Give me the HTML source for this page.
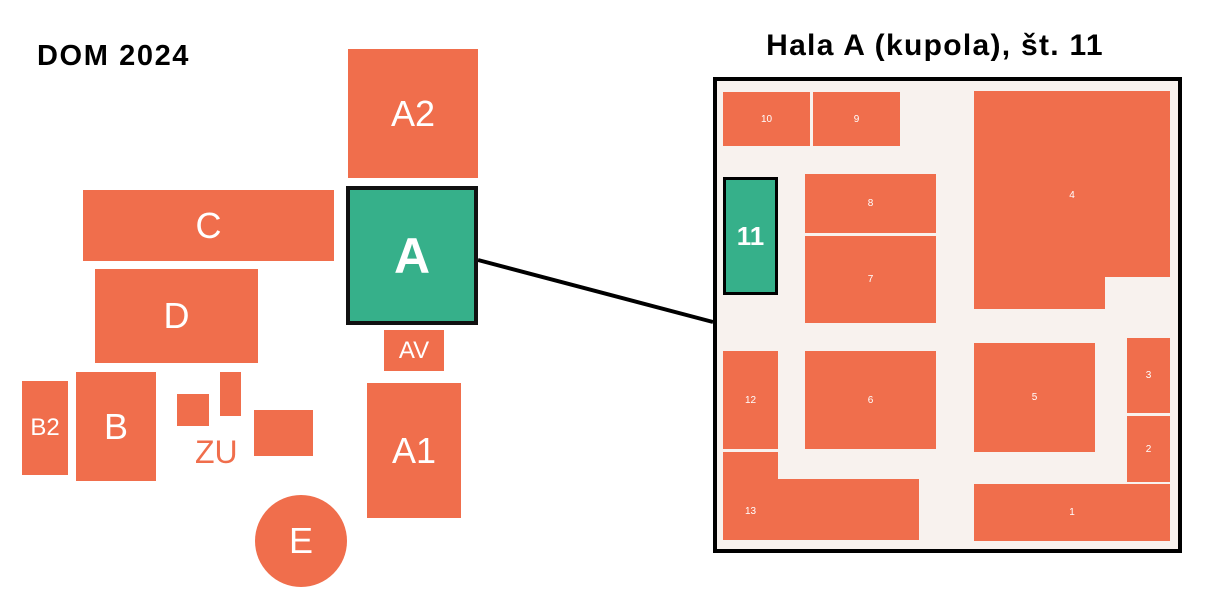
<!DOCTYPE html>
<html><head><meta charset="utf-8"><style>
body{margin:0;width:1219px;height:589px;background:#fff;position:relative;overflow:hidden;font-family:"Liberation Sans",sans-serif}
.b{position:absolute;background:#f06e4c;color:#fff;display:flex;align-items:center;justify-content:center}
.s{font-size:10px}
.t{position:absolute;font-weight:bold;color:#000}
</style></head><body>
<div class="t" style="left:37px;top:40px;font-size:29px;letter-spacing:1.6px">DOM 2024</div>
<div class="t" style="left:735px;top:29px;width:400px;text-align:center;font-size:30px;letter-spacing:1.3px">Hala A (kupola), št. 11</div>
<svg style="position:absolute;left:0;top:0" width="1219" height="589"><line x1="478" y1="260" x2="713" y2="322" stroke="#000" stroke-width="4"/></svg>
<div class="b" style="left:348px;top:49px;width:130px;height:129px;font-size:36px">A2</div>
<div class="b" style="left:346px;top:186px;width:124px;height:131px;background:#36b08a;border:4px solid #111;font-size:50px;font-weight:bold">A</div>
<div class="b" style="left:83px;top:190px;width:251px;height:71px;font-size:36px">C</div>
<div class="b" style="left:95px;top:269px;width:163px;height:94px;font-size:36px">D</div>
<div class="b" style="left:384px;top:330px;width:60px;height:41px;font-size:24px">AV</div>
<div class="b" style="left:367px;top:383px;width:94px;height:135px;font-size:36px">A1</div>
<div class="b" style="left:22px;top:381px;width:46px;height:94px;font-size:24px">B2</div>
<div class="b" style="left:76px;top:372px;width:80px;height:109px;font-size:36px">B</div>
<div class="b" style="left:177px;top:394px;width:32px;height:32px"></div>
<div class="b" style="left:220px;top:372px;width:21px;height:44px"></div>
<div class="b" style="left:254px;top:410px;width:59px;height:46px"></div>
<div style="position:absolute;left:195px;top:434px;font-size:32px;color:#f06e4c">ZU</div>
<div class="b" style="left:255px;top:495px;width:92px;height:92px;border-radius:50%;font-size:36px">E</div>
<div style="position:absolute;left:713px;top:77px;width:461px;height:468px;border:4px solid #000;background:#f8f2ee"></div>
<div class="b s" style="left:723px;top:92px;width:87px;height:54px">10</div>
<div class="b s" style="left:813px;top:92px;width:87px;height:54px">9</div>
<div class="b" style="left:723px;top:177px;width:49px;height:112px;background:#36b08a;border:3px solid #000;font-size:26px;font-weight:bold">11</div>
<div class="b s" style="left:805px;top:174px;width:131px;height:59px">8</div>
<div class="b s" style="left:805px;top:236px;width:131px;height:87px">7</div>
<div class="b" style="left:974px;top:91px;width:196px;height:186px"></div>
<div class="b" style="left:974px;top:270px;width:131px;height:39px"></div>
<div style="position:absolute;left:974px;top:190px;width:196px;text-align:center;color:#fff;font-size:10px">4</div>
<div class="b s" style="left:723px;top:351px;width:55px;height:98px">12</div>
<div class="b" style="left:778px;top:479px;width:141px;height:61px"></div>
<div class="b s" style="left:723px;top:452px;width:55px;height:88px;padding-top:30px;box-sizing:border-box">13</div>
<div class="b s" style="left:805px;top:351px;width:131px;height:98px">6</div>
<div class="b s" style="left:974px;top:343px;width:121px;height:109px">5</div>
<div class="b s" style="left:1127px;top:338px;width:43px;height:75px">3</div>
<div class="b s" style="left:1127px;top:416px;width:43px;height:66px">2</div>
<div class="b s" style="left:974px;top:484px;width:196px;height:57px">1</div>
</body></html>
